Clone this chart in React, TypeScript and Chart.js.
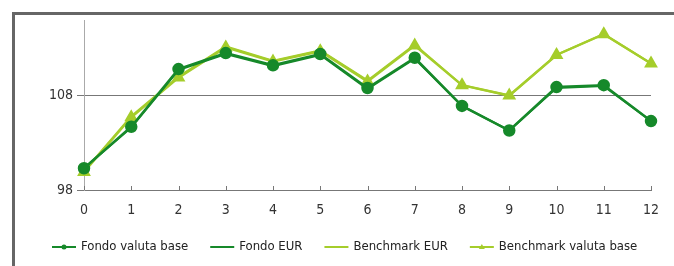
import React, { useEffect, useRef } from "react";
import { Chart, registerables } from "chart.js";

Chart.register(...registerables);

const categories = ["0", "1", "2", "3", "4", "5", "6", "7", "8", "9", "10", "11", "12"];
const fondoValutaBase = [100.3, 104.7, 110.8, 112.5, 111.2, 112.4, 108.8, 112.0, 106.9, 104.3, 108.9, 109.1, 105.3];
const fondoEUR = [100.3, 104.6, 110.7, 112.4, 111.1, 112.3, 108.7, 111.9, 106.9, 104.3, 108.8, 109.0, 105.3];
const benchmarkEUR = [100.0, 105.8, 110.0, 113.2, 111.7, 112.8, 109.6, 113.4, 109.1, 108.0, 112.3, 114.5, 111.4];
const benchmarkValutaBase = [99.9, 105.7, 109.9, 113.1, 111.6, 112.7, 109.5, 113.3, 109.1, 108.0, 112.3, 114.5, 111.4];
const yTicks = [98, 108];

const DARK = "#16892a";
const LIGHT = "#a5cd2b";
const FONT = "'Liberation Sans Narrow', 'DejaVu Sans Condensed', 'Arial Narrow', sans-serif";

export default function App() {
  const ref = useRef<HTMLCanvasElement | null>(null);

  useEffect(() => {
    if (!ref.current) return;
    const innerTicks = {
      id: "innerTicks",
      afterDatasetsDraw(chart: any) {
        const { ctx, chartArea, scales } = chart;
        const x = scales.x;
        ctx.save();
        ctx.strokeStyle = "#777";
        ctx.lineWidth = 1;
        for (let i = 0; i < categories.length; i++) {
          const px = Math.round(x.getPixelForValue(i)) + 0.5;
          ctx.beginPath();
          ctx.moveTo(px, chartArea.bottom);
          ctx.lineTo(px, chartArea.bottom - 4);
          ctx.stroke();
        }
        ctx.restore();
      },
    };
    const customLegend = {
      id: "customLegend",
      afterDraw(chart: any) {
        const { ctx } = chart;
        const y = 247;
        let cx = 52;
        ctx.save();
        ctx.font = `13px ${FONT}`;
        ctx.textBaseline = "middle";
        chart.data.datasets.forEach((ds: any) => {
          ctx.strokeStyle = ds.borderColor;
          ctx.lineWidth = 2;
          ctx.beginPath();
          ctx.moveTo(cx, y);
          ctx.lineTo(cx + 24, y);
          ctx.stroke();
          if (ds.pointRadius > 0) {
            ctx.fillStyle = ds.pointBackgroundColor;
            ctx.beginPath();
            if (ds.pointStyle === "triangle") {
              ctx.moveTo(cx + 12, y - 3);
              ctx.lineTo(cx + 15, y + 2);
              ctx.lineTo(cx + 9, y + 2);
            } else {
              ctx.arc(cx + 12, y, 2.5, 0, Math.PI * 2);
            }
            ctx.fill();
          }
          ctx.fillStyle = "#222";
          ctx.fillText(ds.label, cx + 29, y);
          cx += 29 + ctx.measureText(ds.label).width + 22;
        });
        ctx.restore();
      },
    };

    const chart = new Chart(ref.current, {
      type: "line",
      data: {
        labels: categories,
        datasets: [
          {
            label: "Fondo valuta base",
            data: fondoValutaBase,
            borderColor: DARK,
            backgroundColor: DARK,
            pointBackgroundColor: DARK,
            pointBorderColor: DARK,
            pointRadius: 5,
            pointStyle: "circle",
            borderWidth: 2.5,
            tension: 0,
          },
          {
            label: "Fondo EUR",
            data: fondoEUR,
            borderColor: DARK,
            backgroundColor: DARK,
            pointBackgroundColor: DARK,
            pointRadius: 0,
            borderWidth: 2,
            tension: 0,
          },
          {
            label: "Benchmark EUR",
            data: benchmarkEUR,
            borderColor: LIGHT,
            backgroundColor: LIGHT,
            pointBackgroundColor: LIGHT,
            pointRadius: 0,
            borderWidth: 2,
            tension: 0,
          },
          {
            label: "Benchmark valuta base",
            data: benchmarkValutaBase,
            borderColor: LIGHT,
            backgroundColor: LIGHT,
            pointBackgroundColor: LIGHT,
            pointBorderColor: LIGHT,
            pointRadius: 5.5,
            pointStyle: "triangle",
            borderWidth: 2.5,
            tension: 0,
          },
        ],
      },
      options: {
        responsive: false,
        animation: false,
        layout: { padding: { left: 0, right: 23, top: 20, bottom: 46 } },
        plugins: {
          legend: { display: false },
          tooltip: { enabled: false },
        },
        scales: {
          x: {
            offset: false,
            grid: { display: false, drawTicks: false },
            border: { display: true, color: "#777", width: 1 },
            ticks: {
              color: "#333",
              font: { family: FONT, size: 14 },
              padding: 12,
              maxRotation: 0,
              autoSkip: false,
            },
            afterFit(scale: any) {
              scale.height = 30;
            },
          },
          y: {
            min: 98,
            max: 116,
            afterBuildTicks(scale: any) {
              scale.ticks = yTicks.map((v) => ({ value: v }));
            },
            grid: {
              color: "#777",
              lineWidth: 1,
              drawTicks: true,
              tickLength: 7,
            },
            border: { display: true, color: "#aaa", width: 1 },
            ticks: {
              color: "#333",
              font: { family: FONT, size: 14 },
              padding: 4,
              callback: (v: any) => String(v),
            },
            afterFit(scale: any) {
              scale.width = 84;
            },
          },
        },
      },
      plugins: [innerTicks, customLegend],
    });
    return () => chart.destroy();
  }, []);

  return (
    <div style={{ position: "fixed", left: 0, top: 0, width: 674, height: 266, background: "#fff", overflow: "hidden" }}>
      <div style={{ position: "absolute", left: 12, top: 12, width: 662, height: 3, background: "#666" }} />
      <div style={{ position: "absolute", left: 12, top: 12, width: 3, height: 254, background: "#666" }} />
      <canvas ref={ref} width={674} height={266} style={{ position: "absolute", left: 0, top: 0 }} />
    </div>
  );
}
